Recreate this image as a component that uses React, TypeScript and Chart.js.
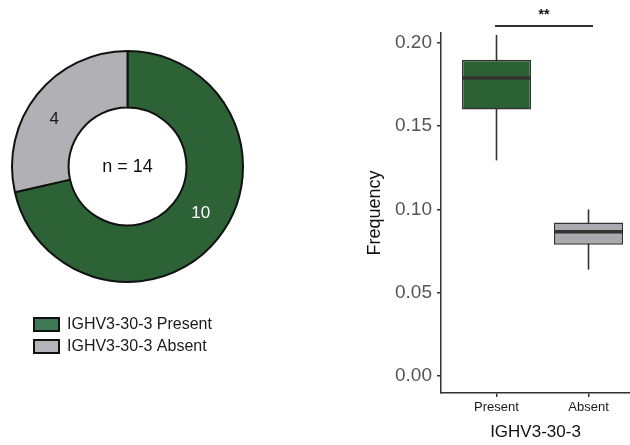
import React, { useEffect, useRef } from "react";
import { Chart, registerables } from "chart.js";

Chart.register(...registerables);

// ---- data ----
const donutLabels = ["IGHV3-30-3 Present", "IGHV3-30-3 Absent"];
const donutCounts = [10, 4];
const donutColors = ["#2d6136", "#b1b0b5"];
const legendColors = ["#3d7955", "#b4b3b7"];

const boxCategories = ["Present", "Absent"];
const boxMin = [0.1295, 0.0639];
const boxQ1 = [0.16, 0.0789];
const boxMedian = [0.179, 0.0867];
const boxQ3 = [0.19, 0.0922];
const boxMax = [0.2048, 0.1];
const boxColors = ["#2c6233", "#aaaaae"];
const yTickValues = [0, 0.05, 0.1, 0.15, 0.2];
const sigLabel = "**";
const sigY = 0.2102;
const xTitle = "IGHV3-30-3";
const yTitle = "Frequency";

const FONT = "'Liberation Sans', Arial, Helvetica, sans-serif";
Chart.defaults.font.family = FONT;

function DonutChart() {
  const ref = useRef<HTMLCanvasElement>(null);
  useEffect(() => {
    const total = donutCounts.reduce((a, b) => a + b, 0);
    const labelPlugin = {
      id: "donutLabels",
      afterDatasetsDraw(chart: any) {
        const ctx = chart.ctx;
        const meta = chart.getDatasetMeta(0);
        ctx.save();
        ctx.textAlign = "center";
        ctx.textBaseline = "middle";
        meta.data.forEach((arc: any, i: number) => {
          const p = arc.getProps(["x", "y", "startAngle", "endAngle", "innerRadius", "outerRadius"], true);
          const mid = (p.startAngle + p.endAngle) / 2 - 0.1;
          const r = (p.innerRadius + p.outerRadius) / 2;
          ctx.font = `17px ${FONT}`;
          ctx.fillStyle = i === 0 ? "#ffffff" : "#1a1a1a";
          ctx.fillText(String(donutCounts[i]), p.x + Math.cos(mid) * r, p.y + Math.sin(mid) * r);
          if (i === 0) {
            ctx.font = `18px ${FONT}`;
            ctx.fillStyle = "#111111";
            ctx.fillText(`n = ${total}`, p.x, p.y + 1);
          }
        });
        // legend
        ctx.textAlign = "left";
        ctx.font = `16px ${FONT}`;
        donutLabels.forEach((lab, i) => {
          const bx = 34, by = 318 + i * 22;
          ctx.fillStyle = legendColors[i];
          ctx.fillRect(bx, by, 25, 13);
          ctx.lineWidth = 2;
          ctx.strokeStyle = "#111111";
          ctx.strokeRect(bx, by, 25, 13);
          ctx.fillStyle = "#1a1a1a";
          ctx.fillText(lab, 67, by + 7);
        });
        ctx.restore();
      },
    };
    const chart = new Chart(ref.current!, {
      type: "doughnut",
      data: {
        labels: donutLabels,
        datasets: [
          {
            data: donutCounts,
            backgroundColor: donutColors,
            borderColor: "#111111",
            borderWidth: 2,
            hoverBorderWidth: 2,
          },
        ],
      },
      options: {
        responsive: false,
        animation: false,
        devicePixelRatio: 1,
        cutout: "51%",
        layout: { padding: { left: 11, top: 50, right: 16, bottom: 87 } },
        plugins: { legend: { display: false }, tooltip: { enabled: false } },
      },
      plugins: [labelPlugin],
    });
    return () => chart.destroy();
  }, []);
  return (
    <canvas
      ref={ref}
      width={260}
      height={370}
      style={{ position: "absolute", left: 0, top: 0, width: 260, height: 370 }}
    />
  );
}

function BoxChart() {
  const ref = useRef<HTMLCanvasElement>(null);
  useEffect(() => {
    const xs = boxCategories.map((_, i) => i + 1);
    const half = 0.375;
    const medianPts: any[] = [];
    xs.forEach((x, i) => {
      medianPts.push({ x: x - half, y: boxMedian[i] });
      medianPts.push({ x: x + half, y: boxMedian[i] });
      medianPts.push({ x: x + 0.5, y: null });
    });
    const sigPts = [
      { x: xs[0] - 0.016, y: sigY },
      { x: xs[1] + 0.049, y: sigY },
    ];
    const sigPlugin = {
      id: "sig",
      afterDatasetsDraw(chart: any) {
        const ctx = chart.ctx;
        const xScale = chart.scales.x;
        const yScale = chart.scales.y;
        const px = xScale.getPixelForValue((sigPts[0].x + sigPts[1].x) / 2);
        const py = yScale.getPixelForValue(sigY);
        ctx.save();
        ctx.font = `bold 14px ${FONT}`;
        ctx.fillStyle = "#111111";
        ctx.textAlign = "center";
        ctx.textBaseline = "middle";
        ctx.fillText(sigLabel, px, py - 11);
        ctx.restore();
      },
    };
    const chart = new Chart(ref.current!, {
      type: "bar",
      data: {
        datasets: [
          {
            type: "bar",
            label: "whisker",
            data: xs.map((x, i) => ({ x, y: [boxMin[i], boxMax[i]] })),
            backgroundColor: "#333333",
            maxBarThickness: 1.6,
            grouped: false,
            order: 3,
          } as any,
          {
            type: "bar",
            label: "box",
            data: xs.map((x, i) => ({ x, y: [boxQ1[i], boxQ3[i]] })),
            backgroundColor: boxColors,
            borderColor: "#333333",
            borderWidth: 1.5,
            borderSkipped: false,
            categoryPercentage: 0.75,
            barPercentage: 1,
            grouped: false,
            order: 2,
          } as any,
          {
            type: "line",
            label: "median",
            data: medianPts,
            borderColor: "#333333",
            borderWidth: 3.5,
            borderCapStyle: "butt",
            pointRadius: 0,
            spanGaps: false,
            order: 1,
          } as any,
          {
            type: "line",
            label: "sig",
            data: sigPts,
            borderColor: "#333333",
            borderWidth: 2,
            borderCapStyle: "butt",
            pointRadius: 0,
            clip: false,
            order: 0,
          } as any,
        ],
      },
      options: {
        responsive: false,
        animation: false,
        devicePixelRatio: 1,
        layout: { padding: { left: 0, top: 33, right: 0, bottom: 0 } },
        plugins: { legend: { display: false }, tooltip: { enabled: false } },
        scales: {
          x: {
            type: "linear",
            offset: false,
            min: 0.3967,
            max: 2.451,
            afterBuildTicks: (scale: any) => {
              scale.ticks = xs.map((v) => ({ value: v }));
            },
            afterFit: (scale: any) => {
              scale.height = 52;
            },
            ticks: {
              callback: (_v: any, i: number) => boxCategories[i],
              color: "#1a1a1a",
              font: { size: 13 },
              padding: 3,
              maxRotation: 0,
              autoSkip: false,
            },
            grid: {
              offset: false,
              drawOnChartArea: false,
              drawTicks: true,
              tickLength: 4,
              color: "#333333",
              lineWidth: 1.5,
            },
            border: { display: true, color: "#333333", width: 1.5 },
            title: {
              display: true,
              text: xTitle,
              color: "#111111",
              font: { size: 17 },
              padding: { top: 0, bottom: 2 },
            },
          },
          y: {
            type: "linear",
            min: -0.0102,
            max: 0.206,
            afterBuildTicks: (scale: any) => {
              scale.ticks = yTickValues.map((v) => ({ value: v }));
            },
            afterFit: (scale: any) => {
              scale.width = 86;
            },
            ticks: {
              callback: (v: any) => Number(v).toFixed(2),
              color: "#555555",
              font: { size: 19 },
              padding: 5,
            },
            grid: {
              drawOnChartArea: false,
              drawTicks: true,
              tickLength: 4,
              color: "#333333",
              lineWidth: 1.5,
            },
            border: { display: true, color: "#333333", width: 1.5 },
            title: {
              display: true,
              text: yTitle,
              color: "#111111",
              font: { size: 18 },
              padding: { top: 9, bottom: 0 },
            },
          },
        },
      } as any,
      plugins: [sigPlugin],
    });
    return () => chart.destroy();
  }, []);
  return (
    <canvas
      ref={ref}
      width={275}
      height={445}
      style={{ position: "absolute", left: 355, top: 0, width: 275, height: 445 }}
    />
  );
}

export default function App() {
  return (
    <div
      style={{
        position: "fixed",
        left: 0,
        top: 0,
        width: 630,
        height: 445,
        background: "#ffffff",
        overflow: "hidden",
      }}
    >
      <DonutChart />
      <BoxChart />
    </div>
  );
}
